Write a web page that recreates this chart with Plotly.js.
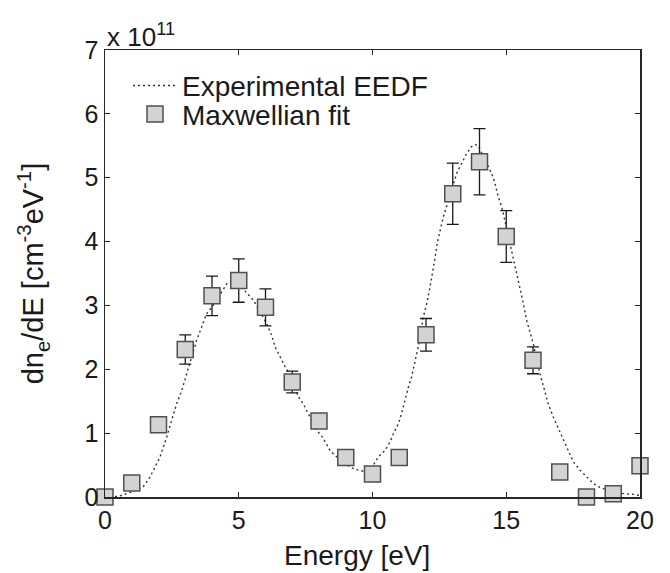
<!DOCTYPE html>
<html>
<head>
<meta charset="utf-8">
<script src="https://cdn.plot.ly/plotly-3.0.1.min.js"></script>
<style>
  html, body { margin: 0; padding: 0; background: #ffffff; }
  #chart { width: 670px; height: 573px; }
</style>
</head>
<body>
<div id="chart"></div>
<script>
// Values in units of 10^11 cm^-3 eV^-1
const fitEnergy = [0, 1, 2, 3, 4, 5, 6, 7, 8, 9, 10, 11, 12, 13, 14, 15, 16, 17, 18, 19, 20];
const fitValues = [0.00, 0.22, 1.13, 2.31, 3.15, 3.39, 2.97, 1.80, 1.19, 0.62, 0.36, 0.62, 2.54, 4.75, 5.25, 4.08, 2.14, 0.39, 0.00, 0.05, 0.49];
const fitErrors = [0.02, 0.03, 0.10, 0.23, 0.31, 0.34, 0.29, 0.17, 0.10, 0.06, 0.04, 0.06, 0.255, 0.48, 0.52, 0.405, 0.21, 0.04, 0.00, 0.01, 0.05];

const eedfEnergy = [0.0, 0.5, 1.0, 1.43, 1.68, 1.87, 2.06, 2.18, 2.31, 2.49, 2.68, 2.87, 3.05, 3.25, 3.43, 3.61, 3.80, 4.11, 4.55, 4.85, 5.30, 5.55, 6.04, 6.23, 6.36, 6.54, 6.73, 6.85, 7.23, 7.41, 7.66, 7.91, 8.16, 8.41, 8.66, 9.16, 9.38, 9.70, 10.03, 10.22, 10.47, 10.65, 10.78, 10.97, 11.09, 11.21, 11.34, 11.46, 11.59, 11.71, 11.90, 12.03, 12.15, 12.25, 12.33, 12.42, 12.52, 12.65, 13.15, 13.33, 13.52, 13.71, 13.85, 13.96, 14.45, 14.58, 14.70, 14.83, 15.20, 15.33, 15.45, 15.64, 15.76, 15.89, 16.01, 16.26, 16.39, 16.57, 16.76, 16.95, 17.13, 17.32, 17.51, 17.76, 18.01, 18.26, 18.50, 19.00, 19.44, 19.80, 20.0];
const eedfValues = [0.00, 0.01, 0.08, 0.16, 0.31, 0.47, 0.63, 0.78, 0.94, 1.20, 1.46, 1.67, 1.93, 2.20, 2.46, 2.66, 2.87, 3.04, 3.34, 3.40, 3.19, 3.08, 2.72, 2.53, 2.35, 2.19, 2.04, 1.96, 1.57, 1.46, 1.25, 1.05, 0.92, 0.73, 0.63, 0.47, 0.43, 0.40, 0.50, 0.63, 0.73, 0.86, 0.99, 1.15, 1.31, 1.52, 1.72, 1.88, 2.14, 2.35, 2.82, 3.03, 3.29, 3.50, 3.72, 3.98, 4.18, 4.39, 5.07, 5.23, 5.38, 5.49, 5.52, 5.49, 5.07, 4.91, 4.70, 4.55, 3.87, 3.60, 3.40, 3.03, 2.77, 2.56, 2.40, 1.93, 1.75, 1.46, 1.25, 1.07, 0.89, 0.71, 0.55, 0.42, 0.31, 0.21, 0.15, 0.08, 0.05, 0.04, 0.02];

const xTickVals = [0, 5, 10, 15, 20];
const yTickVals = [0, 1, 2, 3, 4, 5, 6, 7];

const seriesNames = ['Experimental EEDF', 'Maxwellian fit'];
const xTitle = 'Energy [eV]';
const yTitle = 'dn<sub>e</sub>/dE [cm<sup>-3</sup>eV<sup>-1</sup>]';
const exponentLabel = 'x 10<sup>11</sup>';

const FONT = '"Liberation Sans", Arial, Helvetica, sans-serif';
const AXC = '#262626';
const TXT = '#1a1a1a';

const traces = [
  {
    type: 'scatter', mode: 'lines', name: seriesNames[0], legend: 'legend',
    x: eedfEnergy, y: eedfValues,
    line: { color: '#333333', width: 1.4, dash: '2px,3px' }
  },
  {
    type: 'scatter', mode: 'markers', name: seriesNames[1], legend: 'legend2',
    x: fitEnergy, y: fitValues,
    marker: { symbol: 'square', size: 16, color: '#d3d3d3', line: { color: '#505050', width: 1.5 } },
    error_y: { type: 'data', array: fitErrors, visible: true, color: TXT, thickness: 1.3, width: 6 },
    cliponaxis: false
  }
];

const legendBase = {
  xanchor: 'left', yanchor: 'top',
  bgcolor: 'rgba(0,0,0,0)', borderwidth: 0,
  font: { family: FONT, size: 28, color: TXT },
  itemwidth: 44
};

const layout = {
  width: 670, height: 573,
  margin: { l: 105, r: 30, t: 50, b: 76, pad: 0 },
  paper_bgcolor: '#ffffff', plot_bgcolor: '#ffffff',
  font: { family: FONT, color: TXT, size: 25 },
  showlegend: true,
  legend: Object.assign({}, legendBase, { x: 0.043, y: 0.976 }),
  legend2: Object.assign({}, legendBase, { x: 0.043, y: 0.912 }),
  xaxis: {
    range: [0, 20], tickvals: xTickVals, ticktext: xTickVals.map(String),
    ticks: 'inside', ticklen: 5, tickwidth: 1, tickcolor: AXC,
    showline: true, linecolor: AXC, linewidth: 1.5, mirror: 'ticks',
    showgrid: false, zeroline: false,
    tickfont: { family: FONT, size: 25, color: TXT }
  },
  yaxis: {
    range: [0, 7], tickvals: yTickVals, ticktext: yTickVals.map(String),
    ticks: 'inside', ticklen: 5, tickwidth: 1, tickcolor: AXC,
    showline: true, linecolor: AXC, linewidth: 1.5, mirror: 'ticks',
    showgrid: false, zeroline: false,
    tickfont: { family: FONT, size: 25, color: TXT }
  },
  annotations: [
    { text: xTitle, xref: 'paper', yref: 'paper', x: 0.471, y: -0.092, xanchor: 'center', yanchor: 'top',
      showarrow: false, font: { family: FONT, size: 28, color: TXT } },
    { text: yTitle, xref: 'paper', yref: 'paper', x: -0.135, y: 0.5, xanchor: 'center', yanchor: 'middle',
      textangle: -90, showarrow: false, font: { family: FONT, size: 29, color: TXT } },
    { text: exponentLabel, xref: 'paper', yref: 'paper', x: 0.0, y: 1.0, xanchor: 'left', yanchor: 'bottom',
      yshift: -4, showarrow: false, font: { family: FONT, size: 26, color: TXT } }
  ]
};

Plotly.newPlot('chart', traces, layout, { displayModeBar: false, staticPlot: true });
</script>
</body>
</html>
